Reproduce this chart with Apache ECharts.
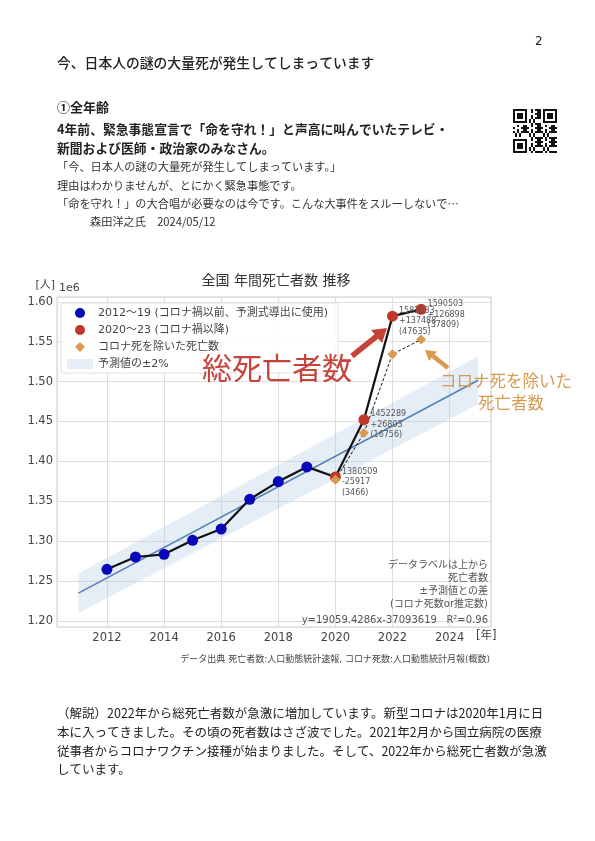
<!DOCTYPE html>
<html><head><meta charset="utf-8">
<script src="https://cdn.jsdelivr.net/npm/echarts@6/dist/echarts.min.js"></script>
<style>html,body{margin:0;padding:0;background:#fff}#c{width:595px;height:841px}</style>
</head><body><div id="c"></div>
<script>
// ---- data ----
const allYears = [2012,2013,2014,2015,2016,2017,2018,2019,2020,2021,2022,2023];
const preYears = [2012,2013,2014,2015,2016,2017,2018,2019];
const preDeaths = [1264800,1280200,1283600,1301100,1315300,1352500,1374700,1393100];
const postYears = [2020,2021,2022,2023];
const postDeaths = [1380509,1452289,1582033,1590503];
const diffFromTrend = [-25917,26803,137488,126898];
const covidDeaths = [3466,16756,47635,37809];
const trendSlope = 19059.4286;
const trendIntercept = -37093619;
const trendYears = [2011,2025];
const bandPct = 0.02;
const yTickStep = 50000;
const xTickStep = 2;

const FONT = "'DejaVu Sans','Noto Sans CJK JP',sans-serif";
const JP = "'Noto Sans CJK JP',sans-serif";

const trend = y => trendSlope*y + trendIntercept;
const totalData = allYears.map((y,i)=>[y, i<preYears.length ? preDeaths[i] : postDeaths[i-preYears.length]]);
const preData = preYears.map((y,i)=>[y, preDeaths[i]]);
const postData = postYears.map((y,i)=>[y, postDeaths[i]]);
const exclData = postYears.map((y,i)=>[y, postDeaths[i]-covidDeaths[i]]);
const trendData = trendYears.map(y=>[y, trend(y)]);
const bandData = trendYears.map(y=>[y, trend(y)*(1-bandPct), trend(y)*(1+bandPct)]);

// QR-like decorative block
function qrElements(x0,y0,m,n){
  const els=[];
  const finder=(cx,cy)=>{
    els.push({type:'rect',shape:{x:x0+cx*m,y:y0+cy*m,width:7*m,height:7*m},style:{fill:'#111'}});
    els.push({type:'rect',shape:{x:x0+(cx+1)*m,y:y0+(cy+1)*m,width:5*m,height:5*m},style:{fill:'#fff'}});
    els.push({type:'rect',shape:{x:x0+(cx+2)*m,y:y0+(cy+2)*m,width:3*m,height:3*m},style:{fill:'#111'}});
  };
  for(let i=0;i<n;i++)for(let j=0;j<n;j++){
    const inF=(i<8&&j<8)||(i<8&&j>=n-8)||(i>=n-8&&j<8);
    if(inF)continue;
    if(((i*i*5+j*j*3+i*j*7+i+2*j)%7)<3) els.push({type:'rect',shape:{x:x0+j*m,y:y0+i*m,width:m,height:m},style:{fill:'#111'}});
  }
  finder(0,0);finder(n-7,0);finder(0,n-7);
  return els;
}

const txt=(x,y,text,o={},z)=>({type:'text',x,y,z:z||10,style:Object.assign({text,font:'12px '+JP,fill:'#222',textVerticalAlign:'middle'},o)});

const chart = echarts.init(document.getElementById('c'));
chart.setOption({
  backgroundColor:'#fff',
  animation:false,
  grid:{left:57,top:297,width:434,height:330,show:true,borderColor:'#cfcfcf',borderWidth:1},
  xAxis:{type:'value',min:2010.25,max:2025.45,minInterval:xTickStep,maxInterval:xTickStep,
    axisLine:{show:false},axisTick:{show:false},
    axisLabel:{fontFamily:FONT,fontSize:11.5,color:'#444',margin:5,
      formatter:v=>(Number.isInteger(v)&&v%xTickStep===0)?String(v):''},
    splitLine:{show:true,lineStyle:{color:'#dedede',width:1}}},
  yAxis:{type:'value',min:1192500,max:1606000,minInterval:yTickStep,maxInterval:yTickStep,
    axisLine:{show:false},axisTick:{show:false},
    axisLabel:{fontFamily:FONT,fontSize:11.5,color:'#444',margin:4,
      formatter:v=>(v%yTickStep===0)?(v/1e6).toFixed(2):''},
    splitLine:{show:true,lineStyle:{color:'#dedede',width:1}}},
  legend:{orient:'vertical',left:61,top:303,padding:[4,10,3,6],itemGap:5,itemWidth:26,itemHeight:10,
    backgroundColor:'rgba(255,255,255,0.85)',borderColor:'#e2e2e2',borderWidth:1,borderRadius:3,
    textStyle:{fontFamily:FONT,fontSize:11,color:'#444',lineHeight:12},
    data:[
      {name:'2012～19 (コロナ禍以前、予測式導出に使用)',icon:'circle'},
      {name:'2020～23 (コロナ禍以降)',icon:'circle'},
      {name:'コロナ死を除いた死亡数',icon:'path://M5 0L10 5L5 10L0 5Z'},
      {name:'予測値の±2%',icon:'rect'}
    ]},
  series:[
    {type:'custom',name:'予測値の±2%',data:bandData,encode:{x:0,y:[1,2]},z:1,silent:true,
      itemStyle:{color:'rgba(170,195,230,0.3)'},
      renderItem:(params,api)=>{
        if(params.dataIndex!==0)return null;
        const top=bandData.map(d=>api.coord([d[0],d[2]]));
        const bot=bandData.map(d=>api.coord([d[0],d[1]])).reverse();
        return {type:'polygon',shape:{points:top.concat(bot)},style:{fill:api.visual('color')}};
      }},
    {type:'line',name:'trend',data:trendData,symbol:'none',z:2,silent:true,
      lineStyle:{color:'#5580b5',width:1.6}},
    {type:'line',name:'total',data:totalData,symbol:'none',z:3,silent:true,
      lineStyle:{color:'#111',width:2.2}},
    {type:'line',name:'exclLine',data:exclData,symbol:'none',z:3,silent:true,
      lineStyle:{color:'#111',width:1,type:[3,2]}},
    {type:'scatter',name:'2012～19 (コロナ禍以前、予測式導出に使用)',data:preData,symbol:'circle',symbolSize:11,z:4,
      itemStyle:{color:'#0808b8',opacity:1}},
    {type:'scatter',name:'2020～23 (コロナ禍以降)',data:postData,symbol:'circle',symbolSize:11,z:4,
      itemStyle:{color:'#c2372b',opacity:1},
      label:{show:true,position:[12,-5],align:'left',verticalAlign:'top',
        fontFamily:FONT,fontSize:8,lineHeight:10.5,color:'#555',
        formatter:p=>{const i=p.dataIndex;const d=diffFromTrend[i];
          return postDeaths[i]+'\n'+(d>=0?'+':'')+d+'\n('+covidDeaths[i]+')';}}},
    {type:'scatter',name:'コロナ死を除いた死亡数',data:exclData,symbol:'diamond',symbolSize:10,z:5,
      itemStyle:{color:'#d99a4f',opacity:1}}
  ],
  graphic:{elements:[
    txt(535,42,'2',{font:'12px '+FONT,fill:'#222'}),
    txt(57,63,'今、日本人の謎の大量死が発生してしまっています',{font:'500 13.8px '+JP}),
    txt(57,107,'①全年齢',{font:'bold 13px '+JP}),
    txt(57,129,'4年前、緊急事態宣言で「命を守れ！」と声高に叫んでいたテレビ・',{font:'bold 12.8px '+JP}),
    txt(57,148,'新聞および医師・政治家のみなさん。',{font:'bold 12.8px '+JP}),
    txt(57,167,'「今、日本人の謎の大量死が発生してしまっています。」',{font:'11.2px '+JP,fill:'#333'}),
    txt(57,186,'理由はわかりませんが、とにかく緊急事態です。',{font:'11.2px '+JP,fill:'#333'}),
    txt(57,204,'「命を守れ！」の大合唱が必要なのは今です。こんな大事件をスルーしないで…',{font:'11.2px '+JP,fill:'#333'}),
    txt(90,222,'森田洋之氏　2024/05/12',{font:'11.2px '+JP,fill:'#333'}),
    ...qrElements(513,109,2,22),
    txt(276,281,'全国 年間死亡者数 推移',{font:'14px '+FONT,fill:'#333',textAlign:'center'}),
    txt(55,285,'[人]',{font:'11px '+FONT,fill:'#444',textAlign:'right'}),
    txt(59,288,'1e6',{font:'11px '+FONT,fill:'#444'}),
    txt(476,636,'[年]',{font:'11.5px '+FONT,fill:'#444'}),
    txt(202,368,'総死亡者数',{font:'30px '+JP,fill:'#c6433a'},100),
    {type:'polyline',z:100,shape:{points:[[352,356],[377,336]]},style:{stroke:'#c6433a',lineWidth:5.5}},
    {type:'polygon',z:100,shape:{points:[[387,328],[382,343],[371,330]]},style:{fill:'#c6433a'}},
    txt(440,381,'コロナ死を除いた',{font:'16.5px '+JP,fill:'#d99a4f'},100),
    txt(511,403,'死亡者数',{font:'16.5px '+JP,fill:'#d99a4f',textAlign:'center'},100),
    {type:'polyline',z:100,shape:{points:[[448,368],[433,356]]},style:{stroke:'#d99a4f',lineWidth:4.5}},
    {type:'polygon',z:100,shape:{points:[[425,350],[437,351.5],[429,361]]},style:{fill:'#d99a4f'}},
    txt(488,565,'データラベルは上から',{font:'10px '+FONT,fill:'#555',textAlign:'right'}),
    txt(488,578,'死亡者数',{font:'10px '+FONT,fill:'#555',textAlign:'right'}),
    txt(488,591,'±予測値との差',{font:'10px '+FONT,fill:'#555',textAlign:'right'}),
    txt(488,604,'(コロナ死数or推定数)',{font:'10px '+FONT,fill:'#555',textAlign:'right'}),
    txt(488,620,'y=19059.4286x-37093619   R²=0.96',{font:'10px '+FONT,fill:'#555',textAlign:'right'}),
    txt(490,660,'データ出典 死亡者数:人口動態統計速報, コロナ死数:人口動態統計月報(概数)',{font:'9px '+FONT,fill:'#444',textAlign:'right'}),
    txt(57,713,'（解説）2022年から総死亡者数が急激に増加しています。新型コロナは2020年1月に日',{font:'12.5px '+JP,fill:'#222'}),
    txt(57,732,'本に入ってきました。その頃の死者数はさざ波でした。2021年2月から国立病院の医療',{font:'12.5px '+JP,fill:'#222'}),
    txt(57,751,'従事者からコロナワクチン接種が始まりました。そして、2022年から総死亡者数が急激',{font:'12.5px '+JP,fill:'#222'}),
    txt(57,769,'しています。',{font:'12.5px '+JP,fill:'#222'})
  ]}
});
</script></body></html>
